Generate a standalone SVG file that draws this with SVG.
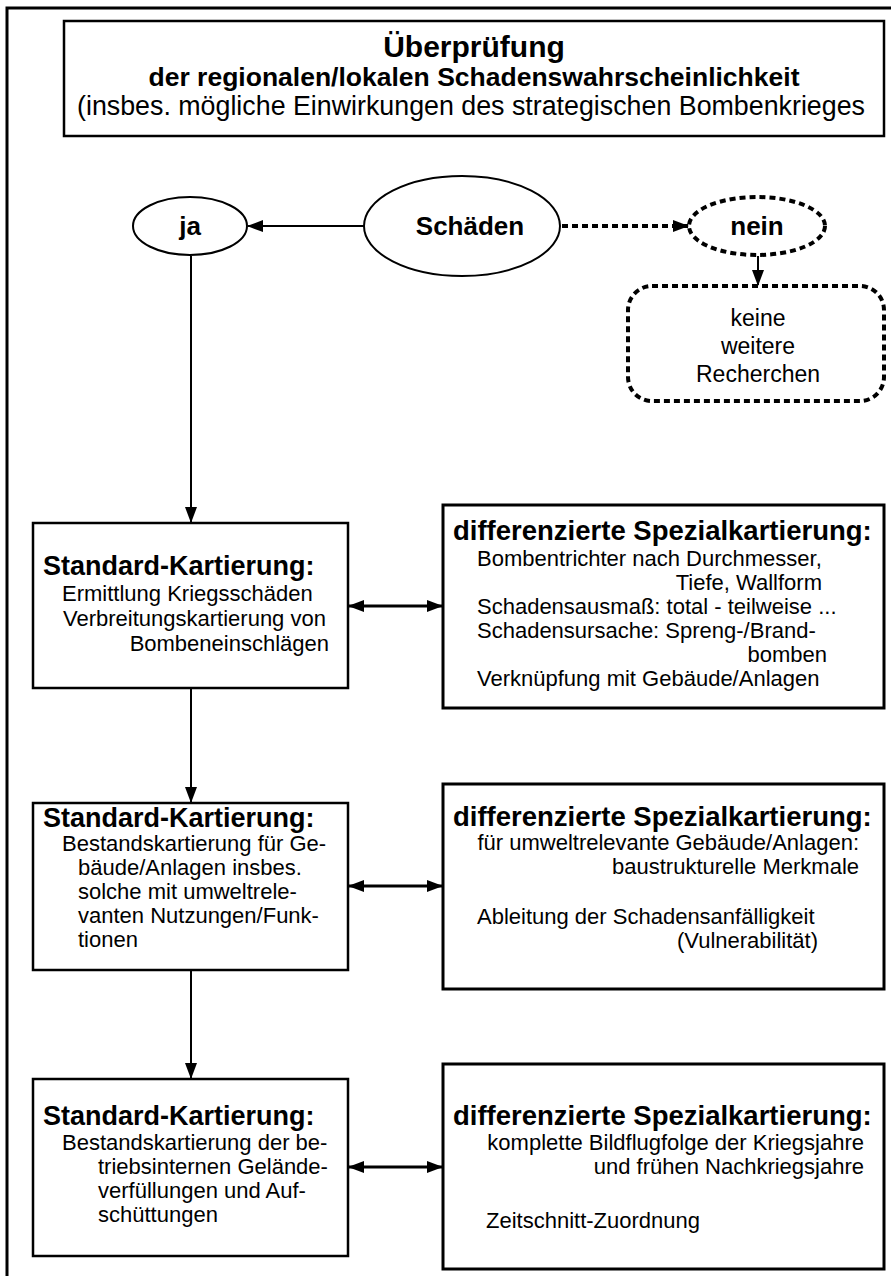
<svg xmlns="http://www.w3.org/2000/svg" width="894" height="1276" viewBox="0 0 894 1276">
<defs>
<marker id="ah" markerUnits="userSpaceOnUse" markerWidth="16" markerHeight="12" refX="15" refY="6" orient="auto-start-reverse">
<path d="M0,0 L16,6 L0,12 z" fill="#000"/>
</marker>
<style>
text{font-family:"Liberation Sans",Arial,sans-serif;fill:#000}
.b{font-weight:bold}
.st{font-size:27px;font-weight:bold}
.dt{font-size:27.5px;font-weight:bold}
.r{font-size:22px}
.ov{font-size:26px;font-weight:bold;text-anchor:middle}
.box{fill:#fff;stroke:#000;stroke-width:2.5}
.dbox{fill:#fff;stroke:#000;stroke-width:3}
.ell{fill:#fff;stroke:#000;stroke-width:2}
.dash{fill:#fff;stroke:#000;stroke-width:4;stroke-dasharray:6 4}
.con{fill:none;stroke:#000;stroke-width:2}
.dcon{fill:none;stroke:#000;stroke-width:4;stroke-dasharray:6 4}
.bi{fill:none;stroke:#000;stroke-width:3}
.e{text-anchor:end}
.m{text-anchor:middle}
</style>
</defs>
<rect width="894" height="1276" fill="#fff"/>
<g id="frame">
<path d="M7,1276 L7,8 L891,8" fill="none" stroke="#000" stroke-width="3"/>
</g>
<g id="title">
<rect class="box" x="64" y="21" width="820" height="115"/>
<text class="m b" x="474" y="57" style="font-size:30px">Überprüfung</text>
<text class="m b" x="474" y="86" style="font-size:26.5px">der regionalen/lokalen Schadenswahrscheinlichkeit</text>
<text class="m" x="471" y="115" style="font-size:26.8px">(insbes. mögliche Einwirkungen des strategischen Bombenkrieges</text>
</g>
<g id="connectors">
<line class="con" x1="364" y1="226" x2="248" y2="226" marker-end="url(#ah)"/>
<line class="dcon" x1="562" y1="226" x2="688" y2="226" marker-end="url(#ah)"/>
<line class="con" x1="758" y1="256" x2="758" y2="285" marker-end="url(#ah)"/>
<line class="con" x1="191" y1="256" x2="191" y2="522" marker-end="url(#ah)"/>
<line class="con" x1="191" y1="688" x2="191" y2="802" marker-end="url(#ah)"/>
<line class="con" x1="191" y1="970" x2="191" y2="1078" marker-end="url(#ah)"/>
<line class="bi" x1="349" y1="606" x2="442" y2="606" marker-start="url(#ah)" marker-end="url(#ah)"/>
<line class="bi" x1="349" y1="886" x2="442" y2="886" marker-start="url(#ah)" marker-end="url(#ah)"/>
<line class="bi" x1="349" y1="1167" x2="442" y2="1167" marker-start="url(#ah)" marker-end="url(#ah)"/>
</g>
<g id="ja">
<ellipse class="ell" cx="190" cy="226" rx="57" ry="29"/>
<text class="ov" x="190" y="235">ja</text>
</g>
<g id="schaeden">
<ellipse class="ell" cx="462" cy="226" rx="98" ry="50"/>
<text class="ov" x="470" y="235">Schäden</text>
</g>
<g id="nein">
<ellipse class="dash" cx="757" cy="226" rx="68" ry="29"/>
<text class="ov" x="757" y="235">nein</text>
</g>
<g id="keine">
<rect class="dash" x="628" y="286" width="256" height="115" rx="24"/>
<text class="m" x="758" y="326" style="font-size:23px">keine</text>
<text class="m" x="758" y="354" style="font-size:23px">weitere</text>
<text class="m" x="758" y="382" style="font-size:23px">Recherchen</text>
</g>
<g id="std1">
<rect class="box" x="33" y="523" width="315" height="165"/>
<text class="st" x="43" y="575">Standard-Kartierung:</text>
<text class="r" x="62" y="601">Ermittlung Kriegsschäden</text>
<text class="r" x="63" y="626">Verbreitungskartierung von</text>
<text class="r e" x="329" y="651">Bombeneinschlägen</text>
</g>
<g id="spez1">
<rect class="dbox" x="443" y="505" width="441" height="203"/>
<text class="dt" x="453" y="540">differenzierte Spezialkartierung:</text>
<text class="r" x="477" y="566">Bombentrichter nach Durchmesser,</text>
<text class="r e" x="822" y="590">Tiefe, Wallform</text>
<text class="r" x="477" y="614">Schadensausmaß: total - teilweise ...</text>
<text class="r" x="477" y="638">Schadensursache: Spreng-/Brand-</text>
<text class="r e" x="827" y="662">bomben</text>
<text class="r" x="477" y="686">Verknüpfung mit Gebäude/Anlagen</text>
</g>
<g id="std2">
<rect class="box" x="33" y="803" width="315" height="167"/>
<text class="st" x="43" y="827">Standard-Kartierung:</text>
<text class="r" x="62" y="851">Bestandskartierung für Ge-</text>
<text class="r" x="78" y="875">bäude/Anlagen insbes.</text>
<text class="r" x="78" y="899">solche mit umweltrele-</text>
<text class="r" x="78" y="923">vanten Nutzungen/Funk-</text>
<text class="r" x="78" y="947">tionen</text>
</g>
<g id="spez2">
<rect class="dbox" x="443" y="784" width="441" height="205"/>
<text class="dt" x="453" y="826">differenzierte Spezialkartierung:</text>
<text class="r e" x="859" y="850">für umweltrelevante Gebäude/Anlagen:</text>
<text class="r e" x="859" y="874">baustrukturelle Merkmale</text>
<text class="r" x="477" y="924">Ableitung der Schadensanfälligkeit</text>
<text class="r e" x="818" y="948">(Vulnerabilität)</text>
</g>
<g id="std3">
<rect class="box" x="33" y="1079" width="315" height="177"/>
<text class="st" x="43" y="1125">Standard-Kartierung:</text>
<text class="r" x="62" y="1150">Bestandskartierung der be-</text>
<text class="r" x="98" y="1174">triebsinternen Gelände-</text>
<text class="r" x="98" y="1198">verfüllungen und Auf-</text>
<text class="r" x="98" y="1222">schüttungen</text>
</g>
<g id="spez3">
<rect class="dbox" x="443" y="1064" width="441" height="205"/>
<text class="dt" x="453" y="1125">differenzierte Spezialkartierung:</text>
<text class="r e" x="864" y="1150">komplette Bildflugfolge der Kriegsjahre</text>
<text class="r e" x="864" y="1174">und frühen Nachkriegsjahre</text>
<text class="r" x="486" y="1228">Zeitschnitt-Zuordnung</text>
</g>
</svg>
